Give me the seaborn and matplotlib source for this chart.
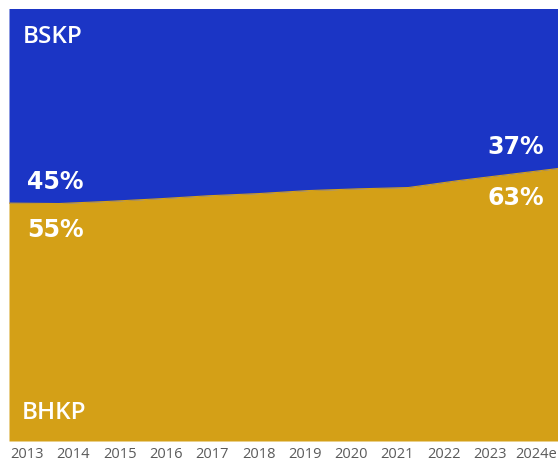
import matplotlib
matplotlib.use("Agg")
import matplotlib.pyplot as plt
import numpy as np
import pandas as pd
import seaborn as sns

# Share of each segment by year (%), BSKP stacked on top of BHKP
years = ["2013", "2014", "2015", "2016", "2017", "2018",
         "2019", "2020", "2021", "2022", "2023", "2024e"]
bskp_share = [45, 45.1, 44.6, 44.0, 43.3, 42.8, 42.1, 41.7, 41.4, 39.8, 38.4, 37]
bhkp_share = [100 - v for v in bskp_share]

BLUE = "#1B35C5"
GOLD = "#D4A017"

sns.set_theme(style="white")
plt.rcParams["font.family"] = ["Open Sans", "DejaVu Sans"]

df = pd.DataFrame({"year": years, "BHKP": bhkp_share, "BSKP": bskp_share})
df["pos"] = np.arange(len(df))

fig = plt.figure(figsize=(5.58, 4.63), dpi=100)
ax = fig.add_axes([9 / 558, 1 - 441 / 463, 1 - 9 / 558, (441 - 8.5) / 463])

ax.stackplot(df["pos"], df["BHKP"], df["BSKP"], colors=[GOLD, BLUE],
             linewidth=0)
sns.lineplot(data=df, x="pos", y="BHKP", ax=ax, color=GOLD, linewidth=0.8)

ax.set_xlim(df["pos"].iloc[0], df["pos"].iloc[-1])
ax.set_ylim(0, 100)
ax.set_xlabel("")
ax.set_ylabel("")
ax.set_yticks([])
for s in ax.spines.values():
    s.set_visible(False)

# Year labels laid out evenly beneath the band
n = len(years)
tick_pos = [(18 + 46.3 * i) / (549 / (n - 1)) for i in range(n)]
ax.set_xticks(tick_pos)
ax.set_xticklabels(years, fontsize=10.5, color="#5a5a5a")
ax.tick_params(axis="x", length=0, pad=4)

# Segment names
name_kw = dict(transform=ax.transAxes, color="white", fontsize=17.5,
               fontweight="semibold", ha="left", va="center")
ax.text(0.025, 0.935, "BSKP", **name_kw)
ax.text(0.024, 0.064, "BHKP", **name_kw)

# Start and end shares at the boundary
pct_kw = dict(color="white", fontsize=17, fontweight="bold",
              family=["DejaVu Sans"], textcoords="offset points", va="center")
ax.annotate(f"{bskp_share[0]:.0f}%", xy=(df["pos"].iloc[0], bhkp_share[0]),
            xytext=(13, 15), ha="left", **pct_kw)
ax.annotate(f"{bhkp_share[0]:.0f}%", xy=(df["pos"].iloc[0], bhkp_share[0]),
            xytext=(13, -19.5), ha="left", **pct_kw)
ax.annotate(f"{bskp_share[-1]:.0f}%", xy=(df["pos"].iloc[-1], bhkp_share[-1]),
            xytext=(-10, 15.5), ha="right", **pct_kw)
ax.annotate(f"{bhkp_share[-1]:.0f}%", xy=(df["pos"].iloc[-1], bhkp_share[-1]),
            xytext=(-10, -21), ha="right", **pct_kw)

fig.savefig("out.png", dpi=100)
